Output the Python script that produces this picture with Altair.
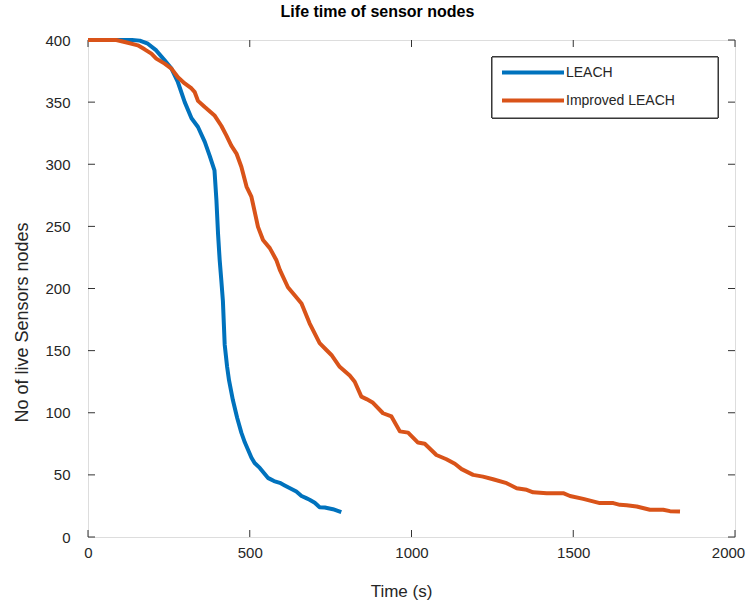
import altair as alt
import pandas as pd

# ---- data ----
leach_t = [0, 136, 160, 185, 211, 237, 258, 278, 299, 320, 340, 361, 376, 391, 397, 402, 407,
           412, 417, 422.5, 430, 436, 448, 461, 474, 485, 495, 505, 515, 531, 556, 575, 593,
           608, 623, 644, 660, 673, 685, 701, 716, 732, 757, 783]
leach_v = [400, 400, 399.5, 397, 391.6, 383.6, 377, 366, 350, 337, 330, 318, 307, 295, 271, 244, 223,
           207, 190, 155, 137, 126, 110, 96, 84, 76, 70, 64, 59.6, 55.6, 47.6, 45, 43.6,
           41.5, 39.5, 36.6, 33, 31.5, 30, 27.6, 24, 23.7, 22.4, 20]

imp_t = [0, 87.5, 123, 154, 175, 196, 211, 237, 258, 278, 299, 320, 330, 340, 361, 392, 412, 428,
         443, 459, 474, 490, 505, 525.5, 541, 562, 582, 593, 618, 644, 660, 685, 716, 737, 752.5,
         778, 809, 824.5, 845, 861, 881, 912, 938, 964, 989.5, 1020, 1041, 1077, 1108, 1134,
         1155, 1190.5, 1221, 1252, 1294, 1325, 1356, 1376, 1418, 1469, 1490, 1531, 1582, 1624,
         1644, 1665, 1696, 1737, 1778, 1799, 1830]
imp_v = [400, 400, 397.8, 395.7, 392.5, 389, 385, 381, 377, 370, 365, 361, 358, 351, 346, 339, 331, 323,
         315, 308.6, 298, 282, 274, 249.6, 239, 232.5, 223, 215, 201, 193, 188, 172, 156, 150.5, 146.5,
         137, 130, 125, 113, 111, 108, 99.6, 97, 85, 84, 76, 75, 66, 62.6, 59,
         54.6, 50, 48.6, 46.5, 43.3, 39.3, 38, 36, 35.3, 35.3, 33, 30.7, 27.3, 27.3,
         25.9, 25.6, 24.5, 21.9, 21.9, 20.8, 20.5]

series_names = ["LEACH", "Improved LEACH"]
series_colors = ["#0072BD", "#D95319"]
x_ticks = [0, 500, 1000, 1500, 2000]
y_ticks = [0, 50, 100, 150, 200, 250, 300, 350, 400]

df = pd.concat([
    pd.DataFrame({"t": leach_t, "v": leach_v, "s": series_names[0]}),
    pd.DataFrame({"t": imp_t, "v": imp_v, "s": series_names[1]}),
])
xt = pd.DataFrame({"tick": x_ticks})
yt = pd.DataFrame({"tick": y_ticks})

W, H = 647, 497
FONT = "Liberation Sans"
TL = 7

xscale = alt.Scale(domain=[0, 2000], nice=False, zero=False)
yscale = alt.Scale(domain=[0, 400], nice=False, zero=False)

lines = alt.Chart(df).mark_line(strokeWidth=4, strokeJoin="round").encode(
    x=alt.X("t:Q", scale=xscale, axis=alt.Axis(
        values=x_ticks, format="d", title="Time (s)", domain=False, ticks=False, grid=False,
        labelFlush=False, labelFontSize=15, labelFont=FONT, labelColor="#262626",
        labelPadding=8,
        labelOffset={"condition": {"test": "datum.value == 2000", "value": -7}, "value": 0},
        titleFont=FONT, titleFontSize=17, titleFontWeight="normal", titleColor="#262626",
        titleX=313, titleY=59, titleAlign="center", titleBaseline="alphabetic")),
    y=alt.Y("v:Q", scale=yscale, axis=alt.Axis(
        values=y_ticks, format="d", title="No of live Sensors nodes", domain=False, ticks=False,
        grid=False, labelFlush=False, labelFontSize=15, labelFont=FONT, labelColor="#262626",
        labelPadding=18,
        titleFont=FONT, titleFontSize=18, titleFontWeight="normal", titleColor="#262626",
        titleX=-61, titleY=282, titleAngle=270, titleAlign="center", titleBaseline="alphabetic")),
    color=alt.Color("s:N", scale=alt.Scale(domain=series_names, range=series_colors),
                    legend=alt.Legend(
                        orient="none", legendX=404, legendY=16.5, title=None,
                        symbolType="stroke", symbolSize=3844, symbolStrokeWidth=4,
                        clipHeight=16, rowPadding=12, padding=8, labelOffset=0,
                        labelFont=FONT, labelFontSize=14, labelColor="#262626",
                        labelLimit=400)),
)

# legend frame (white box with dark border behind the legend entries)
legend_box = alt.Chart(xt).mark_rect(fill="white", stroke="#333333", strokeWidth=1).encode(
    x=alt.value(404), x2=alt.value(630), y=alt.value(17), y2=alt.value(78))

tick_style = dict(color="#333333", strokeWidth=1)
bx = alt.Chart(xt).mark_rule(**tick_style).encode(
    x=alt.X("tick:Q", scale=xscale), y=alt.value(H), y2=alt.value(H - TL))
tx = alt.Chart(xt).mark_rule(**tick_style).encode(
    x=alt.X("tick:Q", scale=xscale), y=alt.value(0), y2=alt.value(TL))
ly = alt.Chart(yt).mark_rule(**tick_style).encode(
    y=alt.Y("tick:Q", scale=yscale), x=alt.value(0), x2=alt.value(TL))
ry = alt.Chart(yt).mark_rule(**tick_style).encode(
    y=alt.Y("tick:Q", scale=yscale), x=alt.value(W), x2=alt.value(W - TL))

chart = alt.layer(bx, tx, ly, ry, lines, legend_box).properties(
    width=W, height=H,
    title=alt.TitleParams(text="Life time of sensor nodes", font=FONT, fontSize=16,
                          fontWeight="bold", color="black", anchor="middle", frame="group",
                          dx=-34, offset=0, baseline="alphabetic"),
    autosize=alt.AutoSizeParams(type="none"),
    padding={"left": 88, "top": 40, "right": 12, "bottom": 68},
).configure_view(stroke="#777777", strokeWidth=1.5).configure(background="white")

chart.save("out.html", embed_options={"renderer": "svg", "actions": False})
